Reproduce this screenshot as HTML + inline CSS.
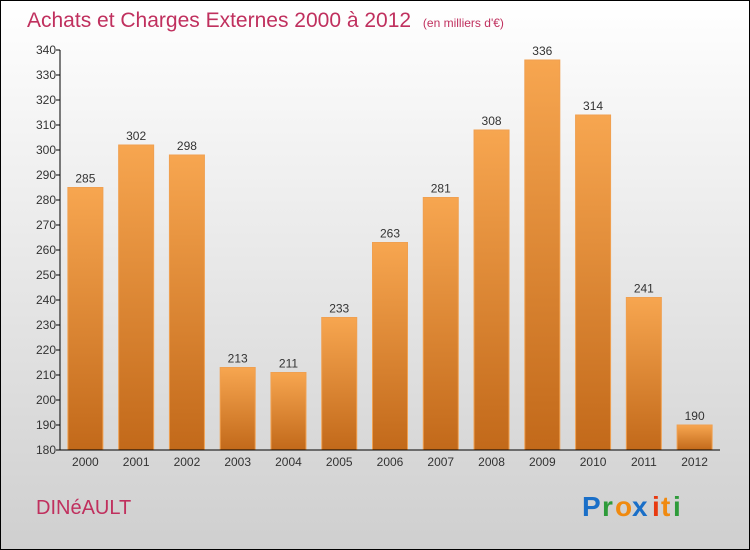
<!DOCTYPE html>
<html><head><meta charset="utf-8"><style>
body{margin:0}
#c{position:relative;width:750px;height:550px;box-sizing:border-box;border:1px solid #000;background:linear-gradient(#ffffff,#cfcfcf);font-family:"Liberation Sans",sans-serif;overflow:hidden}
</style></head><body>
<div id="c">
<svg width="750" height="550" style="position:absolute;left:-1px;top:-1px" id="s">
<defs>
<linearGradient id="g" x1="0" y1="0" x2="0" y2="1"><stop offset="0" stop-color="#f7a650"/><stop offset="1" stop-color="#c2691a"/></linearGradient>
</defs>
<text x="27" y="27" font-size="21" fill="#c0305e">Achats et Charges Externes 2000 à 2012 <tspan font-size="12" dx="6">(en milliers d'€)</tspan></text>
<text x="36" y="514" font-size="20" fill="#c0305e">DINéAULT</text>
<g font-size="28" font-weight="bold">
<text x="582" y="516" fill="#1a6fc8">P</text><text x="602" y="516" fill="#2e9b3a">r</text><text x="615" y="516" fill="#f08a10">o</text><text x="632" y="516" fill="#1a6fc8">x</text><text x="652" y="516" fill="#e83a10">i</text><text x="661" y="516" fill="#f08a10">t</text><text x="673" y="516" fill="#2e9b3a">i</text>
</g>
<g id="plot"></g>
</svg>
</div>
<script>
const years=["2000","2001","2002","2003","2004","2005","2006","2007","2008","2009","2010","2011","2012"];
const values=[285,302,298,213,211,233,263,281,308,336,314,241,190];
const ticks=[180,190,200,210,220,230,240,250,260,270,280,290,300,310,320,330,340];
const NS="http://www.w3.org/2000/svg";
const p=document.getElementById('plot');
const x0=60,x1=720,yTop=50,yBot=450,vmin=180,vmax=340;
const y=v=>yBot-(v-vmin)/(vmax-vmin)*(yBot-yTop);
const bw=(x1-x0)/years.length;
const xc=i=>x0+bw*(i+0.5);
function mk(t,a){const e=document.createElementNS(NS,t);for(const k in a)e.setAttribute(k,a[k]);p.appendChild(e);return e;}
values.forEach((v,i)=>{
 const r=mk('rect',{x:xc(i)-17.5,y:y(v),width:35,height:yBot-y(v),fill:'url(#g)',stroke:'#f0a050','stroke-width':1});
 
 
 const t=mk('text',{x:xc(i),y:y(v)-5,'text-anchor':'middle','font-size':12,fill:'#333'});t.textContent=v;
 
 
 const l=mk('text',{x:xc(i),y:yBot+16,'text-anchor':'middle','font-size':12,fill:'#333'});l.textContent=years[i];
 
 
});
ticks.forEach(v=>{
 mk('line',{x1:x0-4,x2:x0,y1:y(v),y2:y(v),stroke:'#000'});
 const t=mk('text',{x:x0-4,y:y(v)+4,'text-anchor':'end','font-size':12,fill:'#333'});t.textContent=v;
 
 
});
const ya=mk('line',{x1:x0,x2:x0,y1:yTop,y2:yBot,stroke:'#000'});


const xa=mk('line',{x1:x0,x2:x1,y1:yBot,y2:yBot,stroke:'#000'});


</script>
</body></html>
